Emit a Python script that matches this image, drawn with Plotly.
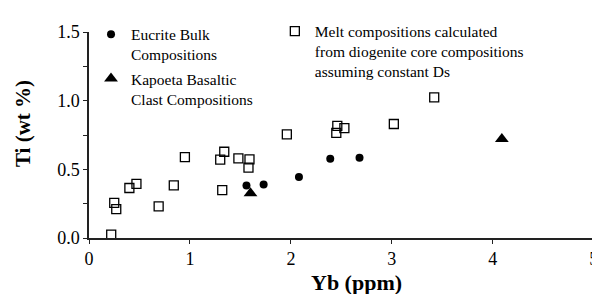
import plotly.graph_objects as go

# Melt compositions calculated from diogenite core compositions (open squares)
melt_yb = [0.22, 0.25, 0.27, 0.40, 0.47, 0.69, 0.84, 0.95, 1.30, 1.34, 1.32, 1.48,
           1.59, 1.58, 1.96, 2.46, 2.53, 2.45, 3.02, 3.42]
melt_ti = [0.025, 0.256, 0.21, 0.364, 0.394, 0.23, 0.383, 0.589, 0.57, 0.628, 0.348, 0.58,
           0.573, 0.513, 0.754, 0.816, 0.80, 0.765, 0.83, 1.024]

# Eucrite bulk compositions (filled circles)
eucrite_yb = [1.56, 1.73, 2.08, 2.39, 2.68]
eucrite_ti = [0.383, 0.39, 0.445, 0.577, 0.584]

# Kapoeta basaltic clast compositions (filled triangles)
kapoeta_yb = [1.60, 4.09]
kapoeta_ti = [0.325, 0.72]

x_ticks = [0, 1, 2, 3, 4, 5]
y_ticks = [0.0, 0.5, 1.0, 1.5]
y_tick_labels = ["0.0", "0.5", "1.0", "1.5"]

FONT = "Liberation Serif"

fig = go.Figure()
fig.add_trace(go.Scatter(
    x=eucrite_yb, y=eucrite_ti, mode="markers",
    name="Eucrite Bulk<br>Compositions", legend="legend", legendgroup="a",
    marker=dict(symbol="circle", size=8, color="black"),
))
fig.add_trace(go.Scatter(
    x=kapoeta_yb, y=kapoeta_ti, mode="markers",
    name="Kapoeta Basaltic<br>Clast Compositions", legend="legend", legendgroup="b",
    marker=dict(symbol="triangle-up", size=12, color="black"),
))
fig.add_trace(go.Scatter(
    x=melt_yb, y=melt_ti, mode="markers",
    name="Melt compositions calculated<br>from diogenite core compositions<br>assuming constant Ds",
    legend="legend2",
    marker=dict(symbol="square-open", size=9, color="black", line=dict(width=1.3)),
))

# page body has an 8px default margin, so the figure is sized/offset to compensate
fig.update_layout(
    width=592, height=286,
    margin=dict(l=81, r=6, t=12, b=56),
    plot_bgcolor="white", paper_bgcolor="white",
    font=dict(family=FONT, color="black", size=15.5),
    showlegend=True,
    legend=dict(
        x=0.004, y=1.07, xanchor="left", yanchor="top",
        bgcolor="rgba(0,0,0,0)", font=dict(family=FONT, size=15.5, color="black"),
        valign="top", traceorder="grouped", tracegroupgap=1, itemwidth=30,
    ),
    legend2=dict(
        x=0.368, y=1.085, xanchor="left", yanchor="top",
        bgcolor="rgba(0,0,0,0)", font=dict(family=FONT, size=15.5, color="black"),
        valign="top", itemwidth=30,
    ),
    xaxis=dict(
        range=[0, 5.003], tickvals=x_ticks, ticktext=[str(v) for v in x_ticks],
        showgrid=False, zeroline=False, showline=True, linecolor="#222", linewidth=1.5,
        ticks="outside", ticklen=4, tickcolor="#222", ticklabelstandoff=0,
        ticklabeloverflow="allow",
        tickfont=dict(family=FONT, size=18, color="black"), automargin=False,
    ),
    yaxis=dict(
        range=[0, 1.5], tickvals=y_ticks, ticktext=y_tick_labels,
        showgrid=False, zeroline=False, showline=True, linecolor="#222", linewidth=1.5,
        ticks="outside", ticklen=4, tickcolor="#222",
        minor=dict(dtick=0.25, ticks="outside", ticklen=4, tickcolor="#222", showgrid=False),
        tickfont=dict(family=FONT, size=18, color="black"), automargin=False,
    ),
    annotations=[
        dict(text="<b>Yb (ppm)</b>", xref="paper", yref="paper", x=0.53, y=-0.215,
             xanchor="center", yanchor="middle", showarrow=False,
             font=dict(family=FONT, size=22, color="black")),
        dict(text="<b>Ti (wt %)</b>", xref="paper", yref="paper", x=-0.132, y=0.555,
             xanchor="center", yanchor="middle", showarrow=False, textangle=-90,
             font=dict(family=FONT, size=21, color="black")),
    ],
)

fig.write_html("out.html")
